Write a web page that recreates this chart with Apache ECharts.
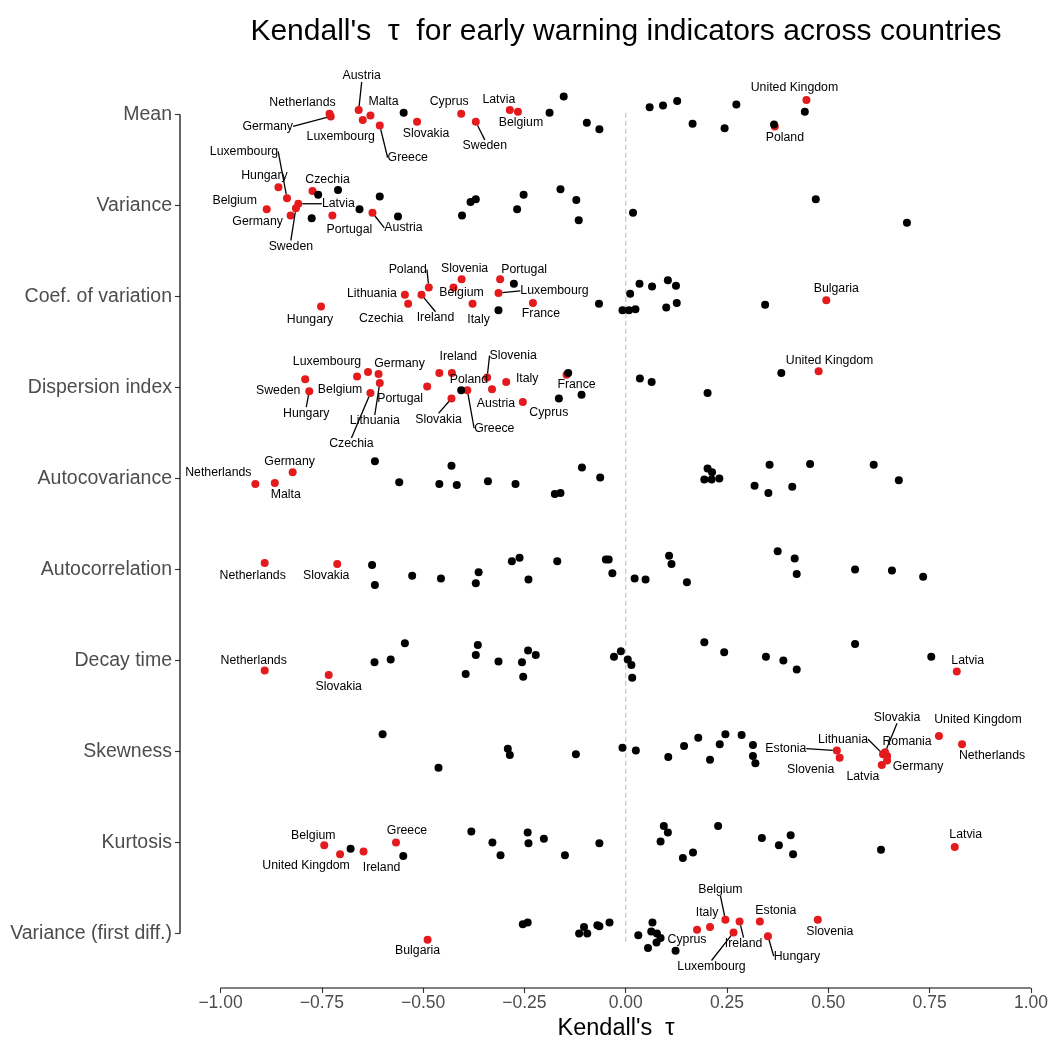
<!DOCTYPE html>
<html>
<head>
<meta charset="utf-8">
<script src="https://cdn.jsdelivr.net/npm/echarts@6/dist/echarts.min.js"></script>
<style>
  html, body { margin: 0; padding: 0; background: #fff; }
  #chart { width: 1052px; height: 1041px; }
</style>
</head>
<body>
<div id="chart"></div>
<script>
// indicators, top to bottom
const indicators = ['Mean', 'Variance', 'Coef. of variation', 'Dispersion index', 'Autocovariance',
  'Autocorrelation', 'Decay time', 'Skewness', 'Kurtosis', 'Variance (first diff.)'];

const xTicks = [-1, -0.75, -0.5, -0.25, 0, 0.25, 0.5, 0.75, 1];

// [tau, jitter (in rows), country] -- country '' = not significant (black)
const meanPts = [
  [-0.731, -0.01, 'Netherlands'], [-0.728, 0.02, 'Germany'], [-0.659, -0.05, 'Austria'],
  [-0.649, 0.06, 'Luxembourg'], [-0.630, 0.01, 'Malta'], [-0.607, 0.12, 'Greece'],
  [-0.515, 0.08, 'Slovakia'], [-0.406, -0.01, 'Cyprus'], [-0.370, 0.08, 'Sweden'],
  [-0.286, -0.05, 'Latvia'], [-0.266, -0.03, 'Belgium'], [0.446, -0.16, 'United Kingdom'],
  [0.368, 0.13, 'Poland'],
  [-0.548, -0.02, ''], [-0.188, -0.02, ''], [-0.153, -0.20, ''], [-0.096, 0.09, ''],
  [-0.065, 0.16, ''], [0.059, -0.08, ''], [0.092, -0.10, ''], [0.127, -0.15, ''],
  [0.165, 0.10, ''], [0.244, 0.15, ''], [0.273, -0.11, ''], [0.366, 0.11, ''], [0.442, -0.03, '']
];

const variancePts = [
  [-0.857, -0.20, 'Hungary'], [-0.836, -0.08, 'Luxembourg'], [-0.886, 0.04, 'Belgium'],
  [-0.773, -0.16, 'Czechia'], [-0.808, -0.02, 'Latvia'], [-0.814, 0.03, 'Sweden'],
  [-0.827, 0.11, 'Germany'], [-0.724, 0.11, 'Portugal'], [-0.625, 0.08, 'Austria'],
  [-0.759, -0.12, ''], [-0.710, -0.17, ''], [-0.775, 0.14, ''], [-0.657, 0.04, ''],
  [-0.607, -0.10, ''], [-0.562, 0.12, ''], [-0.404, 0.11, ''], [-0.383, -0.04, ''],
  [-0.370, -0.07, ''], [-0.268, 0.04, ''], [-0.252, -0.12, ''], [-0.161, -0.18, ''],
  [-0.122, -0.06, ''], [-0.116, 0.16, ''], [0.018, 0.08, ''], [0.469, -0.07, ''], [0.694, 0.19, '']
];

const coefVarPts = [
  [-0.752, 0.11, 'Hungary'], [-0.545, -0.02, 'Lithuania'], [-0.537, 0.08, 'Czechia'],
  [-0.504, -0.02, 'Ireland'], [-0.486, -0.10, 'Poland'], [-0.425, -0.10, 'Belgium'],
  [-0.405, -0.19, 'Slovenia'], [-0.378, 0.08, 'Italy'], [-0.310, -0.19, 'Portugal'],
  [-0.314, -0.04, 'Luxembourg'], [-0.229, 0.07, 'France'], [0.495, 0.04, 'Bulgaria'],
  [-0.276, -0.14, ''], [-0.314, 0.15, ''], [-0.066, 0.08, ''], [0.011, -0.03, ''],
  [0.034, -0.14, ''], [0.065, -0.11, ''], [0.104, -0.18, ''], [0.124, -0.12, ''],
  [-0.008, 0.15, ''], [0.008, 0.15, ''], [0.024, 0.14, ''], [0.100, 0.12, ''],
  [0.126, 0.07, ''], [0.344, 0.09, '']
];

const dispersionPts = [
  [-0.791, -0.09, 'Sweden'], [-0.781, 0.04, 'Hungary'], [-0.636, -0.17, 'Luxembourg'],
  [-0.663, -0.12, 'Belgium'], [-0.610, -0.15, 'Germany'], [-0.630, 0.06, 'Czechia'],
  [-0.607, -0.05, 'Lithuania'], [-0.490, -0.01, 'Portugal'], [-0.460, -0.16, 'Ireland'],
  [-0.429, -0.16, 'Poland'], [-0.430, 0.12, 'Slovakia'], [-0.391, 0.03, 'Greece'],
  [-0.342, -0.11, 'Slovenia'], [-0.330, 0.02, 'Austria'], [-0.295, -0.06, 'Italy'],
  [-0.254, 0.16, 'Cyprus'], [-0.146, -0.14, 'France'], [0.476, -0.18, 'United Kingdom'],
  [-0.142, -0.16, ''], [-0.406, 0.03, ''], [-0.165, 0.12, ''], [-0.109, 0.08, ''],
  [0.035, -0.10, ''], [0.064, -0.06, ''], [0.202, 0.06, ''], [0.384, -0.16, '']
];

const autocovPts = [
  [-0.914, 0.06, 'Netherlands'], [-0.866, 0.05, 'Malta'], [-0.822, -0.07, 'Germany'],
  [-0.619, -0.19, ''], [-0.559, 0.04, ''], [-0.460, 0.06, ''], [-0.430, -0.14, ''],
  [-0.417, 0.07, ''], [-0.340, 0.03, ''], [-0.272, 0.06, ''], [-0.175, 0.17, ''],
  [-0.161, 0.16, ''], [-0.108, -0.12, ''], [-0.063, -0.01, ''], [0.202, -0.11, ''],
  [0.213, -0.07, ''], [0.194, 0.01, ''], [0.212, 0.01, ''], [0.231, 0.00, ''],
  [0.318, 0.08, ''], [0.352, 0.16, ''], [0.355, -0.15, ''], [0.411, 0.09, ''],
  [0.455, -0.16, ''], [0.612, -0.15, ''], [0.674, 0.02, '']
];

const autocorrPts = [
  [-0.891, -0.07, 'Netherlands'], [-0.712, -0.06, 'Slovakia'],
  [-0.626, -0.05, ''], [-0.619, 0.17, ''], [-0.527, 0.07, ''], [-0.456, 0.10, ''],
  [-0.363, 0.03, ''], [-0.370, 0.15, ''], [-0.281, -0.09, ''], [-0.262, -0.13, ''],
  [-0.240, 0.11, ''], [-0.169, -0.09, ''], [-0.049, -0.11, ''], [-0.042, -0.11, ''],
  [-0.033, 0.04, ''], [0.022, 0.10, ''], [0.049, 0.11, ''], [0.107, -0.15, ''],
  [0.113, -0.06, ''], [0.151, 0.14, ''], [0.375, -0.20, ''], [0.417, -0.12, ''],
  [0.422, 0.05, ''], [0.566, 0.00, ''], [0.657, 0.01, ''], [0.734, 0.08, '']
];

const decayPts = [
  [-0.891, 0.11, 'Netherlands'], [-0.733, 0.16, 'Slovakia'], [0.817, 0.12, 'Latvia'],
  [-0.620, 0.02, ''], [-0.580, -0.01, ''], [-0.545, -0.19, ''], [-0.395, 0.15, ''],
  [-0.370, -0.06, ''], [-0.365, -0.17, ''], [-0.314, 0.01, ''], [-0.256, 0.02, ''],
  [-0.253, 0.18, ''], [-0.241, -0.11, ''], [-0.222, -0.06, ''], [-0.029, -0.04, ''],
  [-0.012, -0.10, ''], [0.005, -0.01, ''], [0.014, 0.05, ''], [0.016, 0.19, ''],
  [0.194, -0.20, ''], [0.243, -0.09, ''], [0.346, -0.04, ''], [0.389, 0.00, ''],
  [0.422, 0.10, ''], [0.566, -0.18, ''], [0.754, -0.04, '']
];

const skewnessPts = [
  [0.521, -0.01, 'Estonia'], [0.528, 0.07, 'Slovenia'], [0.635, 0.03, 'Lithuania'],
  [0.640, 0.01, 'Slovakia'], [0.645, 0.05, 'Romania'], [0.645, 0.10, 'Germany'],
  [0.632, 0.15, 'Latvia'], [0.773, -0.17, 'United Kingdom'], [0.830, -0.08, 'Netherlands'],
  [-0.600, -0.19, ''], [-0.462, 0.18, ''], [-0.291, -0.03, ''], [-0.286, 0.04, ''],
  [-0.123, 0.03, ''], [-0.008, -0.04, ''], [0.025, -0.01, ''], [0.105, 0.06, ''],
  [0.144, -0.06, ''], [0.179, -0.15, ''], [0.208, 0.09, ''], [0.232, -0.08, ''],
  [0.246, -0.19, ''], [0.286, -0.18, ''], [0.314, -0.07, ''], [0.314, 0.05, ''], [0.320, 0.13, '']
];

const kurtosisPts = [
  [-0.744, 0.03, 'Belgium'], [-0.705, 0.13, 'United Kingdom'], [-0.647, 0.10, 'Ireland'],
  [-0.567, 0.00, 'Greece'], [0.812, 0.05, 'Latvia'],
  [-0.679, 0.07, ''], [-0.549, 0.15, ''], [-0.381, -0.12, ''], [-0.329, 0.00, ''],
  [-0.309, 0.14, ''], [-0.242, -0.11, ''], [-0.240, 0.01, ''], [-0.202, -0.04, ''],
  [-0.150, 0.14, ''], [-0.065, 0.01, ''], [0.094, -0.18, ''], [0.104, -0.11, ''],
  [0.086, -0.01, ''], [0.141, 0.17, ''], [0.166, 0.11, ''], [0.228, -0.18, ''],
  [0.336, -0.05, ''], [0.378, 0.03, ''], [0.407, -0.08, ''], [0.413, 0.13, ''], [0.630, 0.08, '']
];

const varDiffPts = [
  [0.246, -0.15, 'Belgium'], [0.208, -0.07, 'Italy'], [0.176, -0.04, 'Cyprus'],
  [0.281, -0.13, 'Ireland'], [0.266, -0.01, 'Luxembourg'], [0.331, -0.13, 'Estonia'],
  [0.351, 0.03, 'Hungary'], [0.474, -0.15, 'Slovenia'], [-0.489, 0.07, 'Bulgaria'],
  [-0.254, -0.10, ''], [-0.242, -0.12, ''], [-0.115, 0.00, ''], [-0.103, -0.07, ''],
  [-0.095, 0.00, ''], [-0.070, -0.09, ''], [-0.065, -0.08, ''], [-0.040, -0.12, ''],
  [0.031, 0.02, ''], [0.066, -0.12, ''], [0.063, -0.02, ''], [0.077, 0.00, ''],
  [0.086, 0.05, ''], [0.076, 0.10, ''], [0.055, 0.16, ''], [0.123, 0.19, '']
];

const rows = [meanPts, variancePts, coefVarPts, dispersionPts, autocovPts,
  autocorrPts, decayPts, skewnessPts, kurtosisPts, varDiffPts];

// label placement (px from point) and whether a segment is drawn
const labelShift = {
  'Mean|Austria': [3, -34, 1], 'Mean|Netherlands': [-27, -11, 0], 'Mean|Germany': [-63, 10, 1],
  'Mean|Malta': [13, -14, 0], 'Mean|Luxembourg': [-22, 17, 0], 'Mean|Greece': [28, 32, 1],
  'Mean|Slovakia': [9, 12, 0], 'Mean|Cyprus': [-12, -12, 0], 'Mean|Sweden': [9, 24, 1],
  'Mean|Latvia': [-11, -10, 0], 'Mean|Belgium': [3, 11, 0], 'Mean|United Kingdom': [-12, -12, 0],
  'Mean|Poland': [10, 11, 0],
  'Variance|Luxembourg': [-43, -47, 1], 'Variance|Hungary': [-14, -12, 0], 'Variance|Czechia': [15, -11, 0],
  'Variance|Belgium': [-32, -9, 0], 'Variance|Latvia': [40, 0, 1], 'Variance|Germany': [-33, 6, 0],
  'Variance|Sweden': [-5, 38, 1], 'Variance|Portugal': [17, 14, 0], 'Variance|Austria': [31, 15, 1],
  'Coef. of variation|Poland': [-21, -18, 1], 'Coef. of variation|Slovenia': [3, -11, 0],
  'Coef. of variation|Portugal': [24, -10, 0], 'Coef. of variation|Lithuania': [-33, -1, 0],
  'Coef. of variation|Belgium': [8, 5, 0], 'Coef. of variation|Luxembourg': [56, -2, 1],
  'Coef. of variation|Hungary': [-11, 13, 0], 'Coef. of variation|Czechia': [-27, 15, 0],
  'Coef. of variation|Ireland': [14, 23, 1], 'Coef. of variation|Italy': [6, 16, 0],
  'Coef. of variation|France': [8, 11, 0], 'Coef. of variation|Bulgaria': [10, -12, 0],
  'Dispersion index|Luxembourg': [-41, -10, 0], 'Dispersion index|Belgium': [-17, 13, 0],
  'Dispersion index|Germany': [21, -10, 0], 'Dispersion index|Sweden': [-27, 11, 0],
  'Dispersion index|Hungary': [-3, 22, 1], 'Dispersion index|Lithuania': [-5, 38, 1],
  'Dispersion index|Czechia': [-19, 51, 1], 'Dispersion index|Portugal': [-27, 12, 0],
  'Dispersion index|Ireland': [19, -16, 0], 'Dispersion index|Poland': [17, 7, 0],
  'Dispersion index|Greece': [27, 38, 1], 'Dispersion index|Slovakia': [-13, 21, 1],
  'Dispersion index|Slovenia': [26, -22, 1], 'Dispersion index|Italy': [21, -3, 0],
  'Dispersion index|Austria': [4, 14, 0], 'Dispersion index|Cyprus': [26, 11, 0],
  'Dispersion index|France': [10, 10, 0], 'Dispersion index|United Kingdom': [11, -11, 0],
  'Autocovariance|Netherlands': [-37, -11, 0], 'Autocovariance|Malta': [11, 12, 0],
  'Autocovariance|Germany': [-3, -11, 0],
  'Autocorrelation|Netherlands': [-12, 12, 0], 'Autocorrelation|Slovakia': [-11, 12, 0],
  'Decay time|Netherlands': [-11, -10, 0], 'Decay time|Slovakia': [10, 12, 0],
  'Decay time|Latvia': [11, -11, 0],
  'Skewness|Estonia': [-51, -2, 1], 'Skewness|Lithuania': [-40, -15, 1], 'Skewness|Slovakia': [12, -35, 1],
  'Skewness|Romania': [20, -14, 0], 'Skewness|Germany': [31, 6, 0], 'Skewness|Latvia': [-19, 12, 0],
  'Skewness|Slovenia': [-29, 12, 0], 'Skewness|United Kingdom': [39, -16, 0],
  'Skewness|Netherlands': [30, 11, 0],
  'Kurtosis|Belgium': [-11, -10, 0], 'Kurtosis|United Kingdom': [-34, 11, 0],
  'Kurtosis|Ireland': [18, 16, 0], 'Kurtosis|Greece': [11, -12, 0], 'Kurtosis|Latvia': [11, -12, 0],
  'Variance (first diff.)|Belgium': [-5, -30, 1], 'Variance (first diff.)|Italy': [-3, -14, 0],
  'Variance (first diff.)|Cyprus': [-10, 10, 0], 'Variance (first diff.)|Estonia': [16, -11, 0],
  'Variance (first diff.)|Ireland': [4, 22, 1], 'Variance (first diff.)|Luxembourg': [-22, 34, 1],
  'Variance (first diff.)|Hungary': [29, 20, 1], 'Variance (first diff.)|Slovenia': [12, 12, 0],
  'Variance (first diff.)|Bulgaria': [-10, 11, 0]
};

const fontFamily = '"Liberation Sans", Arial, Helvetica, sans-serif';

const redData = [];
const redShift = [];
const blackData = [];
rows.forEach((pts, i) => {
  pts.forEach(p => {
    if (p[2]) {
      const s = labelShift[indicators[i] + '|' + p[2]] || [0, -12, 0];
      redData.push({ value: [p[0], i + p[1]], name: p[2], labelLine: { show: !!s[2] } });
      redShift.push(s);
    } else {
      blackData.push([p[0], i + p[1]]);
    }
  });
});

const chart = echarts.init(document.getElementById('chart'), null, { renderer: 'canvas' });

chart.setOption({
  animation: false,
  backgroundColor: '#fff',
  title: {
    text: "Kendall's  \u03c4  for early warning indicators across countries",
    left: 621,
    top: 12,
    textAlign: 'center',
    textStyle: { fontFamily, fontSize: 30, fontWeight: 'normal', color: '#000' }
  },
  grid: { left: 180, right: 0, top: 60, height: 928, outerBoundsMode: 'none', containLabel: false },
  xAxis: {
    type: 'value',
    min: -1.1,
    max: 1.052,
    name: "Kendall's  \u03c4",
    nameLocation: 'middle',
    nameGap: 26,
    nameTextStyle: { fontFamily, fontSize: 23.5, color: '#000', verticalAlign: 'top', padding: [0, 0, 0, 0] },
    axisLine: { show: false, onZero: false },
    axisTick: { show: true, length: 5, customValues: xTicks, lineStyle: { color: '#333', width: 1.1 } },
    axisLabel: {
      customValues: xTicks,
      margin: 6,
      fontFamily, fontSize: 17.5, color: '#4D4D4D',
      formatter: v => (v < 0 ? '\u2212' : '') + Math.abs(v).toFixed(2)
    },
    splitLine: { show: false }
  },
  yAxis: {
    type: 'value',
    inverse: true,
    min: -0.6,
    max: 9.6,
    axisLine: { show: false, onZero: false },
    axisTick: { show: true, length: 5, customValues: indicators.map((d, i) => i), lineStyle: { color: '#333', width: 1.1 } },
    axisLabel: {
      customValues: indicators.map((d, i) => i),
      margin: 8,
      fontFamily, fontSize: 19.5, color: '#4D4D4D',
      formatter: v => indicators[Math.round(v)]
    },
    splitLine: { show: false }
  },
  series: [
    {
      // reference line at tau = 0
      type: 'line', silent: true, symbol: 'none', z: 1,
      data: [[0, -0.02], [0, 9.12]],
      lineStyle: { color: '#BEBEBE', width: 1.1, type: [5, 3] }
    },
    {
      // capped y axis line
      type: 'line', silent: true, symbol: 'none', clip: false, z: 1,
      data: [[-1.1, 0], [-1.1, 9]],
      lineStyle: { color: '#000', width: 1.2 }
    },
    {
      // capped x axis line
      type: 'line', silent: true, symbol: 'none', clip: false, z: 1,
      data: [[-1, 9.6], [1, 9.6]],
      lineStyle: { color: '#000', width: 1.2 }
    },
    {
      type: 'scatter', symbolSize: 8, z: 2,
      data: redData.map(d => d.value),
      itemStyle: { color: '#E41A1C', opacity: 1 }
    },
    {
      type: 'scatter', symbolSize: 8, z: 3,
      data: blackData,
      itemStyle: { color: '#000', opacity: 1 }
    },
    {
      // country labels with segments
      type: 'scatter', symbolSize: 8, z: 4, silent: true,
      data: redData,
      itemStyle: { color: 'rgba(0,0,0,0)', opacity: 1 },
      label: {
        show: true, position: 'inside',
        formatter: p => p.name,
        fontFamily, fontSize: 12.3, color: '#000'
      },
      labelLine: { show: true, lineStyle: { color: '#000', width: 1.3 } },
      labelLayout: p => ({ dx: redShift[p.dataIndex][0], dy: redShift[p.dataIndex][1], hideOverlap: false })
    }
  ]
});
</script>
</body>
</html>
